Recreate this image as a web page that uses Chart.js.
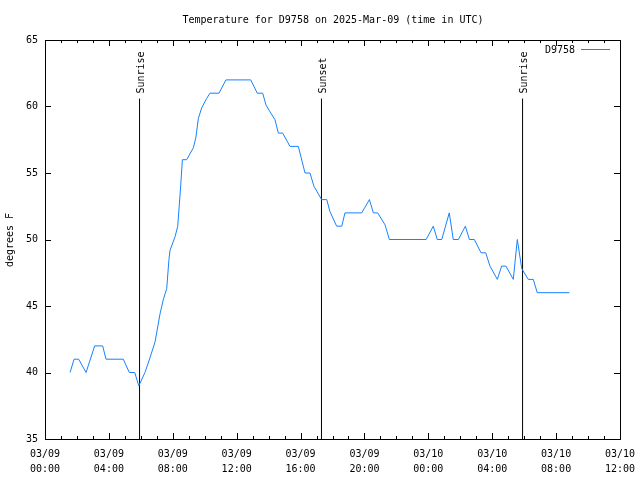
<!DOCTYPE html>
<html>
<head>
<meta charset="utf-8">
<script src="https://cdn.jsdelivr.net/npm/chart.js@4"></script>
<style>
  body { margin: 0; background: #fff; }
  canvas { display: block; }
</style>
</head>
<body>
<canvas id="tempChart" width="640" height="480"></canvas>
<script>
// Hours after 03/09 00:00 UTC and temperature (F)
const hours = [1.57, 1.82, 2.11, 2.57, 3.11, 3.61, 3.82, 4.90, 5.28, 5.62, 5.87,
  6.26, 6.57, 6.89, 7.20, 7.41, 7.62, 7.76, 7.83, 8.14, 8.31, 8.50, 8.60, 8.87,
  9.29, 9.45, 9.60, 9.81, 10.12, 10.33, 10.89, 11.33, 12.88, 13.29, 13.63, 13.84,
  14.09, 14.40, 14.61, 14.88, 15.34, 15.86, 16.28, 16.59, 16.84, 17.32, 17.64,
  17.84, 18.26, 18.58, 18.78, 19.83, 20.31, 20.56, 20.83, 21.29, 21.56, 23.86,
  24.31, 24.56, 24.84, 25.31, 25.56, 25.88, 26.32, 26.57, 26.88, 27.30, 27.59,
  27.86, 28.32, 28.59, 28.86, 29.32, 29.57, 29.85, 30.26, 30.57, 30.82, 32.83];
const temps = [40, 41, 41, 40, 42, 42, 41, 41, 40, 40, 39,
  40, 41.1, 42.3, 44.4, 45.5, 46.3, 48.5, 49.2, 50.2, 51, 54.1, 56, 56,
  56.9, 57.7, 59.1, 59.9, 60.6, 61, 61, 62, 62, 61, 61, 60.1,
  59.6, 59, 58, 58, 57, 57, 55, 55, 54, 53, 53,
  52.1, 51, 51, 52, 52, 53, 52, 52, 51.1, 50, 50,
  51, 50, 50, 52, 50, 50, 51, 50, 50, 49, 49,
  48, 47, 48, 48, 47, 50, 47.8, 47, 47, 46, 46];

// Sun events
const eventHours = [5.92, 17.31, 29.90];
const eventLabels = ['Sunrise', 'Sunset', 'Sunrise'];
const eventTop = 60.6;

const FONT = '"DejaVu Sans Mono", monospace';

function tickLabel(h) {
  const day = 9 + Math.floor(h / 24);
  const hh = String(h % 24).padStart(2, '0');
  return ['03/' + String(day).padStart(2, '0'), hh + ':00'];
}

const datasets = [{
  label: 'D9758',
  data: hours.map((h, i) => ({ x: h, y: temps[i] })),
  borderColor: '#1682ff',
  borderWidth: 1,
  pointRadius: 0,
  tension: 0,
  showLine: true
}];
eventHours.forEach(h => {
  datasets.push({
    label: 'event',
    data: [{ x: h, y: 35 }, { x: h, y: eventTop }],
    borderColor: '#000',
    borderWidth: 1,
    pointRadius: 0,
    showLine: true
  });
});

// Frame, ticks and text in gnuplot style
const decorPlugin = {
  id: 'decor',
  afterDraw(chart) {
    const ctx = chart.ctx;
    const a = chart.chartArea;
    const xs = chart.scales.x, ys = chart.scales.y;
    ctx.save();
    ctx.strokeStyle = '#000';
    ctx.lineWidth = 1;
    ctx.strokeRect(Math.round(a.left) + 0.5, Math.round(a.top) + 0.5,
      Math.round(a.right - a.left), Math.round(a.bottom - a.top));

    ctx.beginPath();
    for (let h = 0; h <= 36; h++) {
      const px = Math.round(xs.getPixelForValue(h)) + 0.5;
      const len = h % 4 === 0 ? 6 : 3;
      ctx.moveTo(px, a.bottom); ctx.lineTo(px, a.bottom - len);
      ctx.moveTo(px, a.top); ctx.lineTo(px, a.top + len);
    }
    for (let t = 35; t <= 65; t += 5) {
      const py = Math.round(ys.getPixelForValue(t)) + 0.5;
      ctx.moveTo(a.left, py); ctx.lineTo(a.left + 6, py);
      ctx.moveTo(a.right, py); ctx.lineTo(a.right - 6, py);
    }
    ctx.stroke();

    ctx.fillStyle = '#000';
    ctx.font = '10px ' + FONT;
    ctx.textAlign = 'center';
    ctx.textBaseline = 'middle';
    ctx.fillText('Temperature for D9758 on 2025-Mar-09 (time in UTC)', 333, 20);

    ctx.save();
    ctx.translate(10, 240);
    ctx.rotate(-Math.PI / 2);
    ctx.fillText('degrees F', 0, 0);
    ctx.restore();

    eventHours.forEach((h, i) => {
      const px = xs.getPixelForValue(h);
      const py = ys.getPixelForValue(eventTop);
      ctx.save();
      ctx.translate(px + 2, py - 5);
      ctx.rotate(-Math.PI / 2);
      ctx.textAlign = 'left';
      ctx.fillText(eventLabels[i], 0, 0);
      ctx.restore();
    });

    // legend
    ctx.textAlign = 'right';
    ctx.fillText('D9758', 575, 50);
    ctx.strokeStyle = '#1682ff';
    ctx.beginPath();
    ctx.moveTo(581, 49.5);
    ctx.lineTo(610, 49.5);
    ctx.stroke();
    ctx.restore();
  }
};

new Chart(document.getElementById('tempChart'), {
  type: 'scatter',
  data: { datasets: datasets },
  options: {
    responsive: false,
    animation: false,
    layout: { padding: { top: 40, right: 20, left: 0, bottom: 0 } },
    plugins: {
      legend: { display: false },
      tooltip: { enabled: false },
      title: { display: false }
    },
    scales: {
      x: {
        type: 'linear',
        min: 0,
        max: 36,
        afterFit: s => { s.height = 41; s.paddingLeft = 0; s.paddingRight = 0; },
        afterBuildTicks: s => {
          s.ticks = [0, 4, 8, 12, 16, 20, 24, 28, 32, 36].map(v => ({ value: v }));
        },
        grid: { display: false, drawTicks: false },
        border: { display: false },
        ticks: {
          padding: 8,
          maxRotation: 0,
          autoSkip: false,
          color: '#000',
          font: { family: FONT, size: 10, lineHeight: 1.5 },
          callback: v => tickLabel(v)
        }
      },
      y: {
        min: 35,
        max: 65,
        afterFit: s => { s.width = 45; },
        grid: { display: false, drawTicks: false },
        border: { display: false },
        ticks: {
          stepSize: 5,
          padding: 7,
          color: '#000',
          font: { family: FONT, size: 10 }
        }
      }
    }
  },
  plugins: [decorPlugin]
});
</script>
</body>
</html>
